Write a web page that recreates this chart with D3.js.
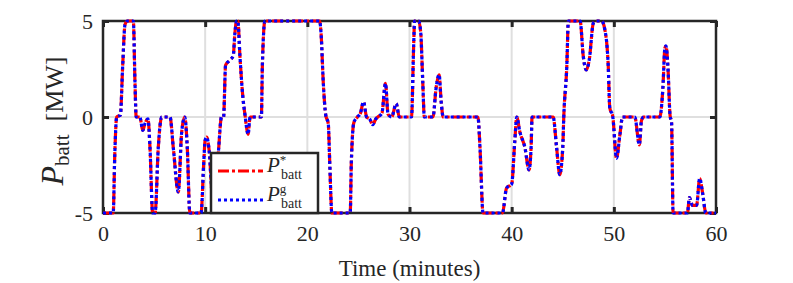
<!DOCTYPE html>
<html>
<head>
<meta charset="utf-8">
<script src="https://cdn.jsdelivr.net/npm/d3@7"></script>
<style>
  body { margin: 0; background: #fff; }
  svg text { font-family: "Liberation Serif", "DejaVu Serif", serif; fill: #262626; }
</style>
</head>
<body>
<svg id="chart" width="793" height="283"></svg>
<script>
// time axis (minutes) and battery power (MW)
const timeMin = [0, 1.0, 1.15, 1.34, 1.7, 1.93, 2.15, 2.38, 2.97, 3.13, 3.25, 3.6, 3.9, 4.1, 4.4, 4.6, 4.86, 5.1, 5.41, 5.74,
  6.56, 6.88, 7.37, 7.7, 8.0, 8.25, 8.5, 9.6, 9.85, 10.0, 10.15, 10.4, 10.7, 11.0, 11.3, 11.6, 11.8, 12.0, 12.4, 12.75,
  12.9, 13.08, 13.2, 13.4, 13.67, 13.9, 14.2, 14.4, 15.5, 15.6, 15.85, 21.2, 21.35, 21.56, 21.8, 22.05, 22.2, 22.4, 24.2, 24.3,
  24.55, 24.9, 25.2, 25.5, 25.8, 26.1, 26.4, 26.7, 26.9, 27.3, 27.65, 27.9, 28.25, 28.7, 29.0, 30.2, 30.4, 30.5, 30.9, 31.1,
  31.3, 31.45, 32.3, 32.6, 32.9, 33.1, 33.3, 36.7, 36.9, 37.2, 39.1, 39.5, 40.0, 40.3, 40.5, 40.8, 41.3, 41.7, 41.9, 42.0,
  44.06, 44.4, 44.7, 45.0, 45.1, 45.4, 45.55, 46.7, 47.0, 47.3, 47.6, 48.0, 48.3, 48.8, 49.1, 49.45, 49.6, 49.9, 50.26, 50.6,
  50.85, 52.05, 52.5, 52.7, 52.9, 54.5, 54.8, 55.0, 55.1, 55.3, 55.5, 55.65, 55.8, 57.2, 57.4, 57.7, 58.1, 58.4, 58.7, 59.0, 60];
const pBatt = [-5, -5, -2.0, 0, 0.1, 2.7, 4.8, 5, 5, 1.8, 0, 0, -0.7, -0.35, -0.1, -1.6, -5, -5, -1.6, 0,
  0, -1.6, -3.9, -0.8, 0, -1.6, -5, -5, -2.5, -1.2, -1.05, -1.8, -4, -4, -1.8, 0, 0, 2.7, 2.95, 3.2,
  4.3, 5, 5, 3.2, 1.15, 0.1, -0.9, 0, 0, 2.7, 5, 5, 4.3, 1.8, 0.1, -0.35, -2.5, -5, -5, -2.5,
  -0.3, 0, 0.2, 0.8, 0, -0.1, -0.4, -0.1, 0, 0.2, 1.75, 0.15, 0, 0.7, 0, 0, 3.6, 5, 5, 4.4,
  1.8, 0, 0, 1.5, 2.2, 0.8, 0, 0, -1.6, -5, -5, -3.7, -3.5, -1.3, 0, -0.77, -1.6, -2.75, -1.6, 0,
  0, -1.6, -3.0, -1.6, 0, 2.7, 5, 5, 3.2, 2.45, 3.0, 4.9, 5, 5, 4.6, 2.7, 0.5, 0, -2.15, -0.9,
  0, 0, -1.45, -0.2, 0, 0, 1.5, 3.6, 3.7, 2.55, 0.1, -0.3, -5, -5, -4.2, -4.6, -4.6, -3.2, -4, -5, -5];
const xTicks = [0, 10, 20, 30, 40, 50, 60];
const yTicks = [-5, 0, 5];

const svg = d3.select("#chart");
const x = d3.scaleLinear().domain([0, 60]).range([103, 716]);
const y = d3.scaleLinear().domain([-5, 5]).range([213, 21]);
const axisCol = "#262626";
const serif = '"Liberation Serif", "DejaVu Serif", serif';

// grid
svg.append("g").selectAll("line").data(xTicks.slice(1, -1)).enter().append("line")
  .attr("x1", d => x(d)).attr("x2", d => x(d)).attr("y1", y(5)).attr("y2", y(-5))
  .attr("stroke", "#dfdfdf").attr("stroke-width", 2);
svg.append("g").selectAll("line").data(yTicks.slice(1, -1)).enter().append("line")
  .attr("x1", x(0)).attr("x2", x(60)).attr("y1", d => y(d)).attr("y2", d => y(d))
  .attr("stroke", "#dfdfdf").attr("stroke-width", 2);

// axes: ticks drawn inward, plain hyphen for negatives like the original
const fmt = d => String(d);
const axB = svg.append("g").attr("transform", `translate(0,${y(-5)})`)
  .call(d3.axisBottom(x).tickValues(xTicks).tickSize(-6).tickPadding(12).tickFormat(fmt));
const axT = svg.append("g").attr("transform", `translate(0,${y(5)})`)
  .call(d3.axisTop(x).tickValues(xTicks).tickSize(-6).tickFormat(""));
const axL = svg.append("g").attr("transform", `translate(${x(0)},0)`)
  .call(d3.axisLeft(y).tickValues(yTicks).tickSize(-6).tickPadding(10).tickFormat(fmt));
const axR = svg.append("g").attr("transform", `translate(${x(60)},0)`)
  .call(d3.axisRight(y).tickValues(yTicks).tickSize(-6).tickFormat(""));
[axB, axT, axL, axR].forEach(g => {
  g.attr("font-family", null).attr("font-size", null);
  g.select(".domain").remove();
  g.selectAll(".tick line").attr("stroke", axisCol).attr("stroke-width", 3);
  g.selectAll("text").style("font-family", serif).style("font-size", "22px").attr("fill", axisCol);
});

svg.append("rect").attr("x", x(0)).attr("y", y(5)).attr("width", x(60) - x(0)).attr("height", y(-5) - y(5))
  .attr("fill", "none").attr("stroke", axisCol).attr("stroke-width", 2.5);

// curves
const pts = timeMin.map((t, i) => [t, pBatt[i]]);
const line = d3.line().x(d => x(d[0])).y(d => y(d[1])).curve(d3.curveMonotoneX);
svg.append("path").datum(pts).attr("d", line).attr("fill", "none")
  .attr("stroke", "#ff0000").attr("stroke-width", 3.2).attr("stroke-dasharray", "11,3,3,3");
svg.append("path").datum(pts).attr("d", line).attr("fill", "none")
  .attr("stroke", "#0000ff").attr("stroke-width", 3.2).attr("stroke-dasharray", "3,3");

// labels
svg.append("text").attr("x", (x(0) + x(60)) / 2).attr("y", 276).attr("text-anchor", "middle")
  .style("font-size", "23px").text("Time (minutes)");

const yl = svg.append("text").attr("transform", `translate(63,${y(0) + 4}) rotate(-90)`).attr("text-anchor", "middle");
yl.append("tspan").style("font-style", "italic").style("font-size", "32px").text("P");
yl.append("tspan").style("font-size", "21px").attr("dy", 6).text("batt");
yl.append("tspan").style("font-size", "26px").attr("dy", -6).text("\u2002[MW]");

// legend
const lg = svg.append("g");
lg.append("rect").attr("x", 211).attr("y", 153).attr("width", 107).attr("height", 60)
  .attr("fill", "#fff").attr("stroke", axisCol).attr("stroke-width", 2.5);
const legItems = [
  { sup: "*", col: "#ff0000", dash: "11,3,3,3", yy: 171 },
  { sup: "g", col: "#0000ff", dash: "3,3", yy: 200 }
];
legItems.forEach(it => {
  lg.append("line").attr("x1", 218).attr("x2", 263).attr("y1", it.yy).attr("y2", it.yy)
    .attr("stroke", it.col).attr("stroke-width", 3).attr("stroke-dasharray", it.dash);
  const t = lg.append("text").attr("x", 267).attr("y", it.yy + 1);
  t.append("tspan").style("font-style", "italic").style("font-size", "21px").text("P");
  t.append("tspan").style("font-size", "13px").attr("dy", -8).text(it.sup);
  t.append("tspan").style("font-size", "14px").attr("x", 281).attr("dy", 15).text("batt");
});
</script>
</body>
</html>
